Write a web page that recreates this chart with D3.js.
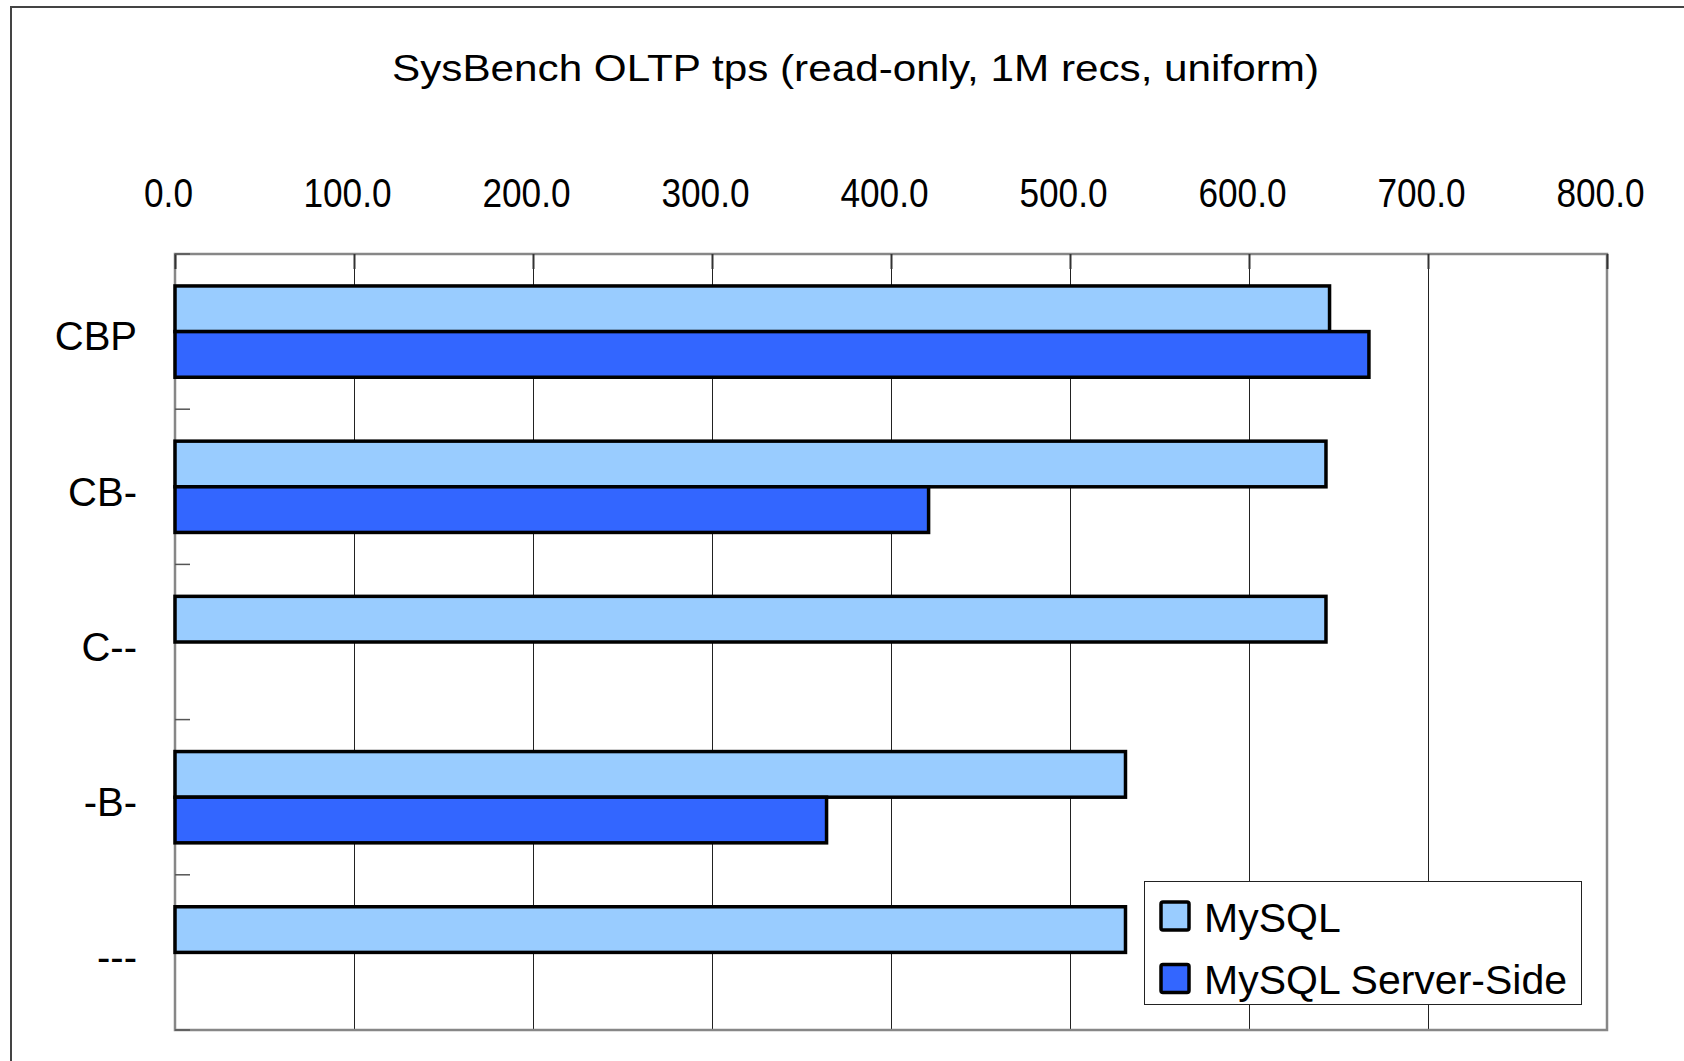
<!DOCTYPE html>
<html>
<head>
<meta charset="utf-8">
<script src="https://cdn.jsdelivr.net/npm/d3@7"></script>
<style>
  body { margin: 0; background: #fff; }
  text { font-family: "Liberation Sans", Arial, sans-serif; fill: #000; }
</style>
</head>
<body>
<div id="chart"></div>
<script>
var categories = ["CBP", "CB-", "C--", "-B-", "---"];
var seriesNames = ["MySQL", "MySQL Server-Side"];
var mysqlValues = [645, 643, 643, 531, 531];
var serverSideValues = [667, 421, null, 364, null];
var xTicks = [0, 100, 200, 300, 400, 500, 600, 700, 800];
var seriesColors = ["#99ccff", "#3366ff"];

var width = 1684, height = 1061;
var plot = {left: 175, top: 254, right: 1607, bottom: 1030};

var svg = d3.select("#chart").append("svg")
    .attr("width", width)
    .attr("height", height);

// outer frame of the chart object
svg.append("rect")
    .attr("x", 11).attr("y", 7)
    .attr("width", width + 20).attr("height", height + 20)
    .attr("fill", "#fff")
    .attr("stroke", "#444")
    .attr("stroke-width", 2);

function squeeze(sel, factor) {
    sel.each(function() {
        var w = this.getComputedTextLength();
        d3.select(this).attr("textLength", w * factor).attr("lengthAdjust", "spacingAndGlyphs");
    });
}

svg.append("text")
    .attr("x", 855.5).attr("y", 81)
    .attr("text-anchor", "middle")
    .style("font-size", "37px")
    .attr("textLength", 927)
    .attr("lengthAdjust", "spacingAndGlyphs")
    .text("SysBench OLTP tps (read-only, 1M recs, uniform)");

var x = d3.scaleLinear().domain([0, 800]).range([plot.left, plot.right]);
var y0 = d3.scaleBand().domain(categories).range([plot.top, plot.bottom]).paddingInner(0).paddingOuter(0);
var y1 = d3.scaleBand().domain(seriesNames).range([0, y0.bandwidth()]).paddingInner(0).paddingOuter(0.7);

// gridlines
svg.append("g").selectAll("line")
    .data(xTicks.slice(1, -1))
    .enter().append("line")
    .attr("x1", function(d){ return Math.round(x(d)) + 0.5; })
    .attr("x2", function(d){ return Math.round(x(d)) + 0.5; })
    .attr("y1", plot.top).attr("y2", plot.bottom)
    .attr("stroke", "#222")
    .attr("stroke-width", 1);

// plot border
svg.append("rect")
    .attr("x", plot.left).attr("y", plot.top)
    .attr("width", plot.right - plot.left).attr("height", plot.bottom - plot.top)
    .attr("fill", "none")
    .attr("stroke", "#878787")
    .attr("stroke-width", 2.5);

// top axis with inward ticks
var xAxis = svg.append("g")
    .attr("transform", "translate(0," + plot.top + ")")
    .call(d3.axisTop(x).tickValues(xTicks).tickFormat(d3.format(".1f"))
        .tickSizeInner(-15).tickSizeOuter(0).tickPadding(47));
xAxis.select(".domain").remove();
xAxis.selectAll(".tick line").attr("stroke", "#333").attr("stroke-width", 2);
xAxis.selectAll(".tick text")
    .attr("fill", "#000")
    .attr("dx", -7)
    .style("font-size", "40px")
    .call(squeeze, 0.88);

// category axis: labels at band centres, ticks on band boundaries
var yAxis = svg.append("g")
    .attr("transform", "translate(" + plot.left + ",0)")
    .call(d3.axisLeft(y0).tickSize(0).tickPadding(38));
yAxis.select(".domain").remove();
yAxis.selectAll(".tick text")
    .attr("fill", "#000")
    .attr("dy", "0.47em")
    .style("font-size", "40px");

var boundaries = categories.map(function(c){ return y0(c); }).concat([plot.bottom]);
svg.append("g").selectAll("line")
    .data(boundaries)
    .enter().append("line")
    .attr("x1", plot.left).attr("x2", plot.left + 15)
    .attr("y1", function(d){ return d; }).attr("y2", function(d){ return d; })
    .attr("stroke", "#555")
    .attr("stroke-width", 1.5);

// bars
var rows = [];
categories.forEach(function(c, i) {
    rows.push({cat: c, series: seriesNames[0], value: mysqlValues[i], color: seriesColors[0]});
    rows.push({cat: c, series: seriesNames[1], value: serverSideValues[i], color: seriesColors[1]});
});

svg.append("g").selectAll("rect")
    .data(rows.filter(function(d){ return d.value != null; }))
    .enter().append("rect")
    .attr("x", x(0))
    .attr("y", function(d){ return y0(d.cat) + y1(d.series); })
    .attr("width", function(d){ return x(d.value) - x(0); })
    .attr("height", y1.bandwidth())
    .attr("fill", function(d){ return d.color; })
    .attr("stroke", "#000")
    .attr("stroke-width", 3.5);

// legend
var legend = svg.append("g");
legend.append("rect")
    .attr("x", 1144.5).attr("y", 881.5)
    .attr("width", 437).attr("height", 123)
    .attr("fill", "#fff")
    .attr("stroke", "#222")
    .attr("stroke-width", 1);

var items = legend.selectAll("g.item")
    .data(seriesNames)
    .enter().append("g")
    .attr("class", "item")
    .attr("transform", function(d, i){ return "translate(1161," + (902 + i * 62.5) + ")"; });
items.append("rect")
    .attr("width", 28).attr("height", 28)
    .attr("rx", 2)
    .attr("fill", function(d, i){ return seriesColors[i]; })
    .attr("stroke", "#000")
    .attr("stroke-width", 3.5);
items.append("text")
    .attr("x", 43).attr("y", 29.5)
    .style("font-size", "41px")
    .text(function(d){ return d; });
</script>
</body>
</html>
